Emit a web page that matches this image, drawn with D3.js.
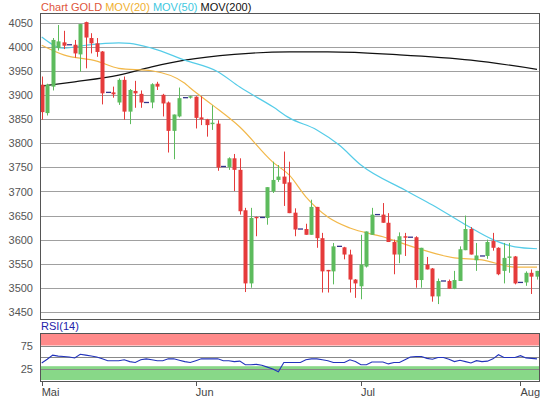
<!DOCTYPE html>
<html><head><meta charset="utf-8">
<script src="https://cdn.jsdelivr.net/npm/d3@7"></script>
<style>body{margin:0;background:#fff}svg{display:block;font-family:Arial,"Liberation Sans",sans-serif}</style>
</head><body><svg id="c" width="540" height="400"></svg>
<script>
const open  = [3922,3863,3918,3998,4010,4005,4005,3985,4052,4019,4008,3991,3906,3906,3885,3932,3866,3909,3903,3885,3885,3924,3901,3885,3826,3856,3895,3895,3897,3854,3850,3840,3841,3752,3751,3769,3745,3661,3509,3647,3646,3645,3700,3724,3731,3719,3656,3622,3622,3610,3668,3603,3537,3534,3586,3584,3569,3517,3503,3544,3610,3652,3652,3635,3595,3569,3607,3605,3605,3516,3548,3540,3482,3514,3514,3498,3514,3578,3622,3557,3566,3566,3597,3583,3535,3562,3565,3511,3511,3531,3523];
const high  = [3939,3924,4019,4046,4034,4005,4015,4048,4053,4029,4019,3992,3906,3918,3935,3939,3913,3930,3910,3885,3925,3928,3903,3887,3860,3916,3895,3899,3898,3898,3851,3879,3848,3752,3771,3778,3769,3666,3666,3648,3646,3709,3762,3755,3783,3762,3665,3622,3633,3683,3668,3614,3537,3593,3586,3585,3579,3518,3610,3617,3666,3652,3676,3655,3600,3615,3614,3605,3607,3583,3564,3541,3519,3514,3517,3535,3586,3650,3626,3593,3566,3600,3614,3584,3593,3593,3566,3511,3534,3538,3535];
const low   = [3849,3858,3910,3993,3996,4005,3978,3949,3956,3987,3980,3881,3906,3895,3880,3849,3840,3874,3874,3885,3873,3911,3856,3781,3767,3854,3895,3893,3831,3838,3814,3828,3743,3752,3745,3701,3652,3491,3500,3607,3646,3631,3697,3720,3670,3655,3607,3622,3610,3610,3583,3490,3490,3507,3586,3559,3490,3479,3476,3542,3610,3652,3635,3595,3528,3551,3566,3605,3500,3500,3538,3471,3466,3514,3498,3497,3514,3578,3569,3535,3566,3560,3577,3526,3509,3531,3507,3511,3504,3487,3517];
const close = [3865,3922,4015,4012,4003,4005,3987,4048,4020,4008,3990,3904,3906,3902,3932,3866,3911,3904,3885,3885,3923,3918,3883,3826,3860,3894,3895,3898,3853,3850,3838,3843,3750,3752,3769,3745,3659,3509,3645,3645,3646,3709,3724,3731,3716,3655,3621,3622,3610,3668,3603,3534,3534,3586,3586,3569,3517,3509,3548,3617,3652,3652,3635,3595,3569,3607,3604,3605,3516,3583,3538,3482,3514,3514,3498,3516,3580,3622,3569,3567,3566,3595,3583,3528,3562,3565,3509,3511,3531,3523,3535];
const rsi = [37,45,54,52,51,50,48,56,54,52,50,46,42,42,42,44,40,38,44,46,44,42,42,46,46,43,40,38,42,46,46,46,46,42,42,40,41,33,33,34,32,28,24,18,38,38,38,38,44,46,46,44,42,38,38,38,44,40,33,33,39,39,39,35,38,38,44,50,51,51,47,45,49,49,45,40,43,40,37,42,40,41,46,55,49,49,49,53,48,47,46];
// moving averages: [index, value]
const ma20  = [[0,4004],[4,3984],[10,3971],[14,3956],[20,3951],[26,3925],[27,3915],[31,3880],[36,3834],[42,3761],[45,3734],[48,3689],[52,3647],[56,3624],[62,3606],[68,3583],[75,3562],[80,3558],[86,3543],[90,3543]];
const ma50  = [[0,4021],[4,3998],[8,4004],[14,4009],[16,4008],[20,3998],[26,3973],[32,3949],[36,3917],[42,3876],[45,3853],[50,3828],[54,3797],[58,3755],[66,3703],[71,3672],[77,3631],[82,3600],[86,3585],[90,3581]];
const ma200 = [[0,3919],[6,3928],[14,3942],[20,3959],[26,3973],[35,3985],[45,3990],[52,3990],[65,3984],[78,3973],[90,3954]];
const monthLabels = ["Mai","Jun","Jul","Aug"];
const monthIdx = [0,28,58,87];
const yTicks = d3.range(3450,4051,50);
const rsiTicks = [25,75];

const svg = d3.select("#c");
const L=40,R=539,T=13,B=319, RT=333,RB=381;
const x = d3.scaleLinear().domain([0,90]).range([41.7,537]);
const y = d3.scaleLinear().domain([3435,4071]).range([B,T]);
const yr = d3.scaleLinear().domain([0,100]).range([RB-1,RT+1]);

// main panel
svg.append("g").selectAll("line").data(yTicks).join("line")
  .attr("x1",L).attr("x2",R).attr("y1",d=>Math.round(y(d))+0.5).attr("y2",d=>Math.round(y(d))+0.5)
  .attr("stroke","#a0a0a0");
svg.append("g").selectAll("text").data(yTicks).join("text")
  .attr("x",33).attr("y",d=>y(d)+4).attr("text-anchor","end").attr("font-size",11).attr("fill","#555").text(d=>d);

const ln = d3.line().x(d=>x(d[0])).y(d=>y(d[1])).curve(d3.curveMonotoneX);
svg.append("path").attr("d",ln(ma200)).attr("fill","none").attr("stroke","#111").attr("stroke-width",1.2);
svg.append("path").attr("d",ln(ma50)).attr("fill","none").attr("stroke","#55cce8").attr("stroke-width",1.2);
svg.append("path").attr("d",ln(ma20)).attr("fill","none").attr("stroke","#f2b84a").attr("stroke-width",1.2);

const idx = d3.range(open.length);
const col = i => close[i]>open[i] ? "#5dbb5d" : (close[i]<open[i] ? "#e53b3b" : "#33338a");
const g = svg.append("g");
idx.forEach(i=>{
  const cx = Math.round(x(i))+0.5;
  if (open[i]===close[i] && high[i]===low[i]) {
    g.append("line").attr("x1",cx-2.5).attr("x2",cx+2.5).attr("y1",y(close[i])).attr("y2",y(close[i])).attr("stroke","#33338a").attr("stroke-width",1.3);
    return;
  }
  g.append("line").attr("x1",cx).attr("x2",cx).attr("y1",y(high[i])).attr("y2",y(low[i])).attr("stroke",col(i)).attr("stroke-width",1);
  const t=y(Math.max(open[i],close[i])), b=y(Math.min(open[i],close[i]));
  g.append("rect").attr("x",cx-2).attr("width",4).attr("y",t).attr("height",Math.max(1.2,b-t)).attr("fill",col(i));
});
svg.append("rect").attr("x",L+0.5).attr("y",T+0.5).attr("width",R-L).attr("height",B-T).attr("fill","none").attr("stroke","#555");

// legend
const leg = svg.append("text").attr("x",41).attr("y",11).attr("font-size",11);
[["Chart GOLD ","#e0553a"],["MOV(20) ","#f0b030"],["MOV(50) ","#40c8e0"],["MOV(200)","#111"]]
  .forEach(([t,c])=>leg.append("tspan").attr("fill",c).text(t));

// RSI panel
svg.append("text").attr("x",41).attr("y",330).attr("font-size",11).attr("fill","#2222aa").text("RSI(14)");
svg.append("rect").attr("x",L).attr("y",yr(100)).attr("width",R-L).attr("height",yr(75)-yr(100)).attr("fill","#ff8a8a");
svg.append("rect").attr("x",L).attr("y",yr(30)).attr("width",R-L).attr("height",yr(0)-yr(30)).attr("fill","#88d888");
svg.append("g").selectAll("line").data([25,50,75]).join("line")
  .attr("x1",L).attr("x2",R).attr("y1",d=>Math.round(yr(d))+0.5).attr("y2",d=>Math.round(yr(d))+0.5).attr("stroke","#888");
svg.append("g").selectAll("text").data(rsiTicks).join("text")
  .attr("x",33).attr("y",d=>yr(d)+4).attr("text-anchor","end").attr("font-size",11).attr("fill","#555").text(d=>d);
svg.append("path").attr("d",d3.line().x((d,i)=>x(i)).y(d=>yr(d))(rsi)).attr("fill","none").attr("stroke","#2233bb").attr("stroke-width",1.1);
svg.append("rect").attr("x",L+0.5).attr("y",RT+0.5).attr("width",R-L).attr("height",RB-RT).attr("fill","none").attr("stroke","#555");

// x axis
svg.append("g").selectAll("line").data(monthIdx).join("line")
  .attr("x1",d=>Math.round(x(d))+0.5).attr("x2",d=>Math.round(x(d))+0.5).attr("y1",RB).attr("y2",RB+5).attr("stroke","#555");
svg.append("g").selectAll("text").data(monthIdx).join("text")
  .attr("x",d=>x(d)).attr("y",396).attr("font-size",11).attr("fill","#444").text((d,i)=>monthLabels[i]);
</script></body></html>
